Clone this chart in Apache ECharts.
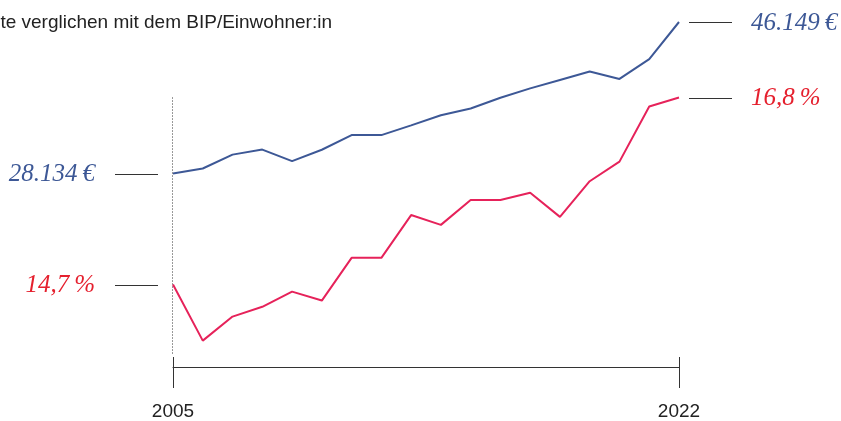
<!DOCTYPE html>
<html>
<head>
<meta charset="utf-8">
<title>BIP und Armutsgefährdung</title>
<script src="https://cdn.jsdelivr.net/npm/echarts@6/dist/echarts.min.js"></script>
<style>
  html, body { margin: 0; padding: 0; background: #fff; }
  #chart { width: 841px; height: 421px; }
</style>
</head>
<body>
<div id="chart"></div>
<script>
// Jahre 2005 - 2022
const years = ['2005', '2006', '2007', '2008', '2009', '2010', '2011', '2012', '2013',
  '2014', '2015', '2016', '2017', '2018', '2019', '2020', '2021', '2022'];
// BIP pro Kopf in Euro
const bipProKopf = [28134, 28730, 30380, 30980, 29600, 30960, 32700, 32700, 33860,
  35060, 35860, 37140, 38260, 39260, 40260, 39380, 41740, 46149];
// Armutsgefährdungsquote in Prozent
const armutsQuote = [14.7, 14.07, 14.34, 14.45, 14.62, 14.52, 15.0, 15.0, 15.48,
  15.37, 15.65, 15.65, 15.73, 15.46, 15.86, 16.08, 16.7, 16.8];
// nur erstes und letztes Jahr beschriften
const shownYears = ['2005', '2022'];
const subtitle = 'Armutsgefährdungsquote verglichen mit dem BIP/Einwohner:in';

const BLUE = '#3d5896';
const RED_LINE = '#e6225a';
const RED_TEXT = '#e5202e';
const INK = '#333';

const fmtEuro = v => String(v).replace(/\B(?=(\d{3})+(?!\d))/g, '.') + '\u2009€';
const fmtPct = v => v.toFixed(1).replace('.', ',') + '\u2009%';

const chart = echarts.init(document.getElementById('chart'));
const showYear = (i) => shownYears.indexOf(years[i]) >= 0;

chart.setOption({
  animation: false,
  grid: { left: 173, right: 162, top: 22, bottom: 54 },
  xAxis: [
    {
      type: 'category', data: years, boundaryGap: false,
      axisLine: { lineStyle: { color: INK, width: 1 } },
      axisTick: { show: true, interval: showYear, length: 21, lineStyle: { color: INK, width: 1 } },
      axisLabel: {
        interval: showYear, margin: 35, fontSize: 19, color: '#222',
        fontFamily: '"Liberation Sans", Arial, sans-serif'
      },
      splitLine: { show: false }
    },
    {
      // kleine Gegenstriche nach oben an den Achsenenden
      type: 'category', data: years, boundaryGap: false, position: 'bottom',
      axisLine: { show: false },
      axisTick: { show: true, inside: true, interval: showYear, length: 10, lineStyle: { color: INK, width: 1 } },
      axisLabel: { show: false },
      splitLine: { show: false }
    }
  ],
  yAxis: [
    { type: 'value', min: 5125, max: 46149, show: false, splitLine: { show: false } },
    { type: 'value', min: 13.774, max: 17.648, show: false, splitLine: { show: false } }
  ],
  series: [
    {
      name: 'BIP/Einwohner:in', type: 'line', data: bipProKopf, yAxisIndex: 0,
      symbol: 'none', lineStyle: { color: BLUE, width: 2 }, itemStyle: { color: BLUE }
    },
    {
      name: 'Armutsgefährdungsquote', type: 'line', data: armutsQuote, yAxisIndex: 1,
      symbol: 'none', lineStyle: { color: RED_LINE, width: 2 }, itemStyle: { color: RED_LINE }
    }
  ]
});

// Beschriftungen links/rechts an den Linienenden
const px = (s, i, v) => chart.convertToPixel({ seriesIndex: s }, [i, v]);
const crisp = v => Math.round(v) + 0.5;
const last = years.length - 1;
const elements = [];
const labelFont = { fontStyle: 'italic', fontSize: 25, fontFamily: '"Liberation Serif", "Times New Roman", serif' };

[[0, bipProKopf, fmtEuro, BLUE], [1, armutsQuote, fmtPct, RED_TEXT]].forEach(([s, vals, fmt, col]) => {
  const a = px(s, 0, vals[0]);
  const b = px(s, last, vals[last]);
  elements.push(
    { type: 'line', shape: { x1: a[0] - 58, y1: crisp(a[1]), x2: a[0] - 15, y2: crisp(a[1]) }, style: { stroke: INK, lineWidth: 1 } },
    { type: 'text', x: a[0] - 78, y: a[1] + 1, style: Object.assign({ text: fmt(vals[0]), fill: col, align: 'right', verticalAlign: 'middle' }, labelFont) },
    { type: 'line', shape: { x1: b[0] + 10, y1: crisp(b[1]), x2: b[0] + 53, y2: crisp(b[1]) }, style: { stroke: INK, lineWidth: 1 } },
    { type: 'text', x: b[0] + 72, y: b[1] + 1, style: Object.assign({ text: fmt(vals[last]), fill: col, align: 'left', verticalAlign: 'middle' }, labelFont) }
  );
});

// gepunktete Linie beim Startjahr
const dotTop = px(1, 0, armutsQuote[last]);
const axisY = px(1, 0, 13.774)[1];
elements.push({
  type: 'line',
  shape: { x1: crisp(dotTop[0]) - 1, y1: dotTop[1], x2: crisp(dotTop[0]) - 1, y2: axisY - 12 },
  style: { stroke: INK, lineWidth: 1, lineDash: [1, 2] }
});

// Untertitel (links abgeschnitten wie im Original)
elements.push({
  type: 'text', x: 332, y: 23,
  style: { text: subtitle, fill: '#222', align: 'right', verticalAlign: 'middle', fontSize: 19, fontFamily: '"Liberation Sans", Arial, sans-serif' }
});

chart.setOption({ graphic: { elements: elements } });
</script>
</body>
</html>
